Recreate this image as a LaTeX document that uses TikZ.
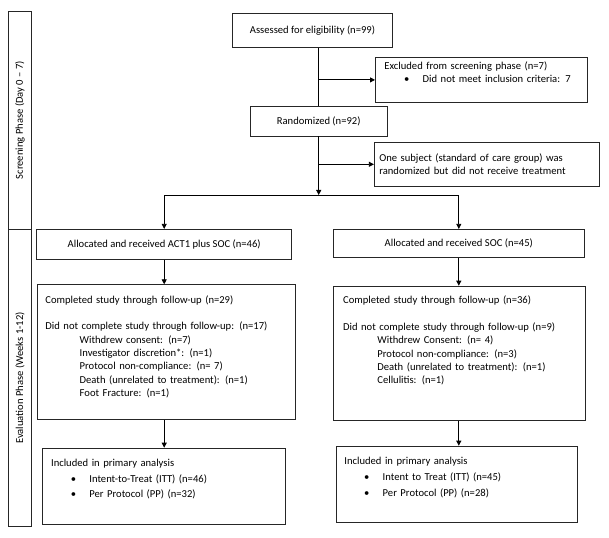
\documentclass[tikz,border=0pt]{standalone}
\usepackage{fontspec}
\setmainfont{Carlito}
\usetikzlibrary{arrows.meta,positioning,calc}
\newcommand{\bitem}{\hspace*{19.8pt}\makebox[18.5pt][l]{\textbullet}}
\newcommand{\subitm}{\hspace*{34.3pt}}

\begin{document}
\begin{tikzpicture}[x=1pt, y=-1pt, line width=0.8pt,
    >={Triangle[length=5pt,width=5pt]},
    box/.style={rectangle, draw=black!85, inner sep=0pt, font=\fontsize{10.6}{13.3}\selectfont},
    listbox/.style={box, anchor=north west, align=left, text height=8pt},
    phase/.style={box, rotate=90, minimum height=23.4pt}]
    \useasboundingbox (0,0) rectangle (609,537);

    \node[phase, minimum width=218.3pt] (screen) at (20,120.15) {Screening Phase (Day 0 – 7)};
    \node[phase, minimum width=297.4pt] (evalp) at (20,378) {Evaluation Phase (Weeks 1-12)};

    \node[box, minimum width=159.5pt, minimum height=34pt] (assess) at (312.5,30.3) {Assessed for eligibility (n=99)};
    \node[listbox, inner xsep=9pt, inner ysep=3.5pt, text width=194pt, text depth=29.4pt] (excl) at (375,57.3)
        {Excluded from screening phase (n=7)\\ \bitem Did not meet inclusion criteria: 7};
    \node[box, minimum width=137.3pt, minimum height=29.3pt] (rand) at (318.7,121.3) {Randomized (n=92)};
    \node[box, align=left, inner xsep=5pt, text width=215pt, minimum height=44.7pt] (subj) at (486.8,164.3)
        {One subject (standard of care group) was\\randomized but did not receive treatment};
    \coordinate (split) at (318.7,195);

    \node[box, minimum width=255pt, minimum height=30pt] (allocL) at (164.2,244.3) {Allocated and received ACT1 plus SOC (n=46)};
    \node[box, minimum width=251pt, minimum height=28pt] (allocR) at (458.8,243.3) {Allocated and received SOC (n=45)};

    \node[listbox, inner xsep=8.3pt, inner ysep=10.5pt, text width=241.7pt, text depth=106pt] (compL) at (36.7,284.3)
        {Completed study through follow-up (n=29)\\[13.3pt]
         Did not complete study through follow-up: (n=17)\\
         \subitm Withdrew consent: (n=7)\\
         \subitm Investigator discretion*: (n=1)\\
         \subitm Protocol non-compliance: (n= 7)\\
         \subitm Death (unrelated to treatment): (n=1)\\
         \subitm Foot Fracture: (n=1)};
    \node[listbox, inner xsep=9.4pt, inner ysep=9.8pt, text width=232.9pt, text depth=106.7pt] (compR) at (333.3,285.7)
        {Completed study through follow-up (n=36)\\[13.3pt]
         Did not complete study through follow-up (n=9)\\
         \subitm Withdrew Consent: (n= 4)\\
         \subitm Protocol non-compliance: (n=3)\\
         \subitm Death (unrelated to treatment): (n=1)\\
         \subitm Cellulitis: (n=1)};

    \node[listbox, inner xsep=8.4pt, inner ysep=10.1pt, text width=225.9pt, text depth=48.4pt] (inclL) at (42.3,447.7)
        {Included in primary analysis\\[2.5pt]
         \bitem Intent-to-Treat (ITT) (n=46)\\[2.5pt]
         \bitem Per Protocol (PP) (n=32)};
    \node[listbox, inner xsep=8.3pt, inner ysep=10.5pt, text width=225pt, text depth=46.8pt] (inclR) at (335.7,445.7)
        {Included in primary analysis\\[2.5pt]
         \bitem Intent to Treat (ITT) (n=45)\\[2.5pt]
         \bitem Per Protocol (PP) (n=28)};

    \draw (assess.south -| rand) -- (rand);
    \draw[->] (rand |- excl) -- (excl);
    \draw[->] (rand |- subj) -- (subj);
    \draw[->] (rand) -- (split);
    \draw[->] (split) -| (allocL);
    \draw[->] (split) -| (allocR);
    \draw[->] (allocL) -- (allocL |- compL.north);
    \draw[->] (allocR) -- (allocR |- compR.north);
    \draw[->] (compL.south -| allocL) -- (allocL |- inclL.north);
    \draw[->] (compR.south -| allocR) -- (allocR |- inclR.north);
\end{tikzpicture}
\end{document}
